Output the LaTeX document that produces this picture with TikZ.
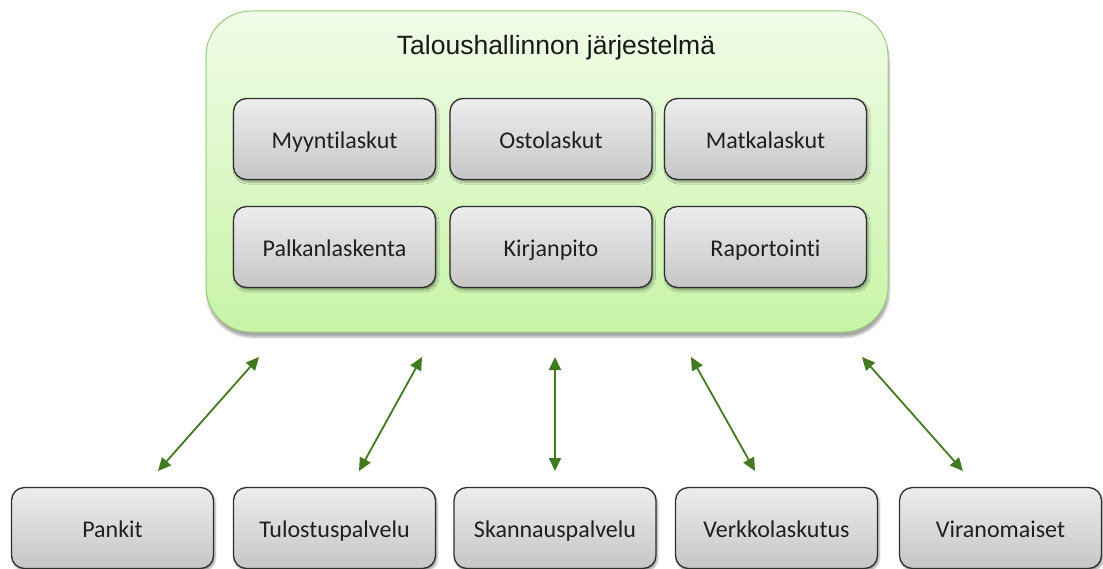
\documentclass[tikz,border=0pt]{standalone}
\usepackage{fontspec}
\setmainfont{Liberation Sans}
\newfontfamily\boxfont[Ligatures={NoCommon,NoRare}]{Carlito}
\usetikzlibrary{arrows.meta,shadows.blur}

\definecolor{framegreen}{HTML}{9CCB7E}
\definecolor{greentop}{HTML}{F0FCE8}
\definecolor{greenbot}{HTML}{C8F4A6}
\definecolor{greytop}{HTML}{EDEDED}
\definecolor{greybot}{HTML}{C6C6C6}
\definecolor{boxline}{HTML}{2E2E2E}
\definecolor{arrowgreen}{HTML}{427A22}

\tikzset{
  system/.style={rectangle, rounded corners=45pt, draw=framegreen, line width=1pt,
    top color=greentop, bottom color=greenbot,
    minimum width=682pt, minimum height=321pt, inner sep=0pt,
    blur shadow={shadow xshift=1pt, shadow yshift=-5pt, shadow blur steps=6, shadow opacity=35}},
  module/.style={rectangle, rounded corners=13pt, draw=boxline, line width=1.3pt,
    top color=greytop, bottom color=greybot,
    minimum width=202pt, minimum height=81pt, inner sep=0pt,
    text height=18.5pt, text depth=0pt,
    font=\boxfont\fontsize{24}{27}\selectfont, text=black!88,
    blur shadow={shadow xshift=1.5pt, shadow yshift=-2.5pt, shadow blur steps=4, shadow opacity=40}},
  link/.style={arrowgreen, line width=1.8pt,
    {Triangle[length=13pt,width=12pt]}-{Triangle[length=13pt,width=12pt]}}
}

\begin{document}
\begin{tikzpicture}[x=1pt,y=-1pt]
\useasboundingbox (0,0) rectangle (1103,569);

% enclosing system
\node[system] (sys) at (547,171.5) {};
\node[font=\fontsize{26.5}{30}\selectfont, text=black!90] (title) at (556,48) {Taloushallinnon järjestelmä};

% modules inside the system
\node[module] (myynti) at (334.5,139) {Myyntilaskut};
\node[module] (osto)   at (551,139)   {Ostolaskut};
\node[module] (matka)  at (765.5,139) {Matkalaskut};
\node[module] (palkka) at (334.5,247) {Palkanlaskenta};
\node[module] (kirja)  at (551,247)   {Kirjanpito};
\node[module] (raport) at (765.5,247) {Raportointi};

% external parties
\node[module] (pankit)  at (112.5,528) {Pankit};
\node[module] (tulostus) at (334.5,528) {Tulostuspalvelu};
\node[module] (skannaus) at (555,528)   {Skannauspalvelu};
\node[module] (verkko)  at (776.5,528) {Verkkolaskutus};
\node[module] (viran)   at (1000.5,528) {Viranomaiset};

% arrow end points
\coordinate (u1) at (259,357); \coordinate (d1) at (158,471);
\coordinate (u2) at (422,357); \coordinate (d2) at (359,471);
\coordinate (u3) at (555,357); \coordinate (d3) at (555,471);
\coordinate (u4) at (691,357); \coordinate (d4) at (755,471);
\coordinate (u5) at (862,357); \coordinate (d5) at (963,471);

\foreach \i in {1,...,5} \draw[link] (u\i) -- (d\i);
\end{tikzpicture}
\end{document}
